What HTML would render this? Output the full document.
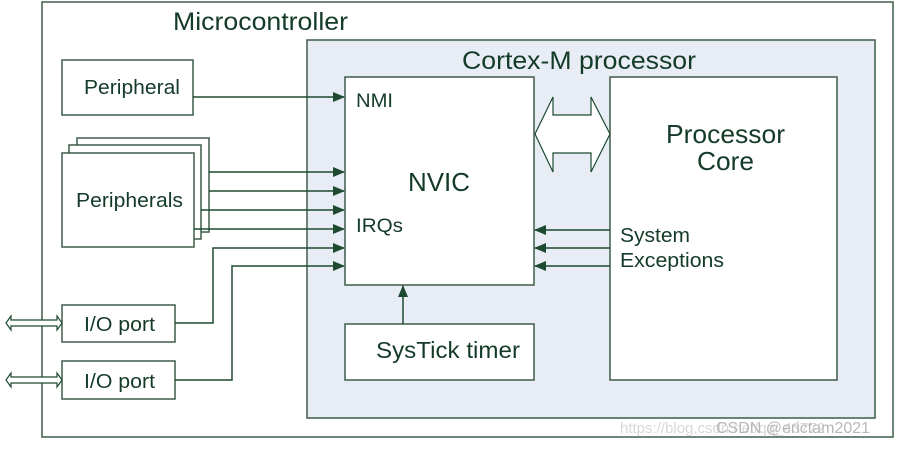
<!DOCTYPE html>
<html><head><meta charset="utf-8"><style>
html,body{margin:0;padding:0;background:#fff;}
svg text{font-family:"Liberation Sans",Arial,sans-serif;fill:#143a28;}
</style></head><body>
<svg width="899" height="444" viewBox="0 0 899 444" xmlns="http://www.w3.org/2000/svg">
<defs>
<marker id="a" markerWidth="12" markerHeight="10" refX="11" refY="5" orient="auto" markerUnits="userSpaceOnUse">
<path d="M0,0 L12,5 L0,10 Z" fill="#1d4a30"/></marker>
</defs>
<g stroke="#3d5c48" stroke-width="1.5" fill="none">
<rect x="42" y="2" width="851" height="435" fill="#fff"/>
<rect x="307" y="40" width="568" height="378" fill="#e8edf5"/>
<rect x="345" y="77" width="189" height="208" fill="#fff"/>
<rect x="610" y="77" width="227" height="303" fill="#fff"/>
<rect x="345" y="324" width="189" height="56" fill="#fff"/>
<rect x="62" y="60" width="131" height="55" fill="#fff"/>
<rect x="77" y="138" width="132" height="94" fill="#fff"/>
<rect x="69" y="145" width="132" height="94" fill="#fff"/>
<rect x="62" y="153" width="132" height="94" fill="#fff"/>
<rect x="62" y="305" width="113" height="37" fill="#fff"/>
<rect x="62" y="361" width="113" height="38" fill="#fff"/>
</g>
<g stroke="#1d4a30" stroke-width="1.5" fill="none" marker-end="url(#a)">
<line x1="193" y1="97" x2="344" y2="97"/>
<line x1="209" y1="172" x2="344" y2="172"/>
<line x1="209" y1="191" x2="344" y2="191"/>
<line x1="201" y1="210" x2="344" y2="210"/>
<line x1="194" y1="229" x2="344" y2="229"/>
<polyline points="175,323 213,323 213,248 344,248"/>
<polyline points="175,380 232,380 232,266 344,266"/>
<line x1="610" y1="230" x2="535" y2="230"/>
<line x1="610" y1="248" x2="535" y2="248"/>
<line x1="610" y1="266" x2="535" y2="266"/>
<line x1="403" y1="324" x2="403" y2="286"/>
</g>
<path d="M535,134 L553,97 L553,115 L591,115 L591,97 L610,134 L591,172 L591,153 L553,153 L553,172 Z" fill="#fff" stroke="#1d4a30" stroke-width="1.2"/>
<g fill="#fff" stroke="#1d4a30" stroke-width="1.2">
<path d="M6,323 L11,316 L11,320 L57,320 L57,316 L62,323 L57,330 L57,326 L11,326 L11,330 Z"/>
<path d="M6,380 L11,373 L11,377 L57,377 L57,373 L62,380 L57,387 L57,383 L11,383 L11,387 Z"/>
</g>
<text x="173" y="30" font-size="25" textLength="175" lengthAdjust="spacingAndGlyphs">Microcontroller</text>
<text x="462" y="69" font-size="25" textLength="234" lengthAdjust="spacingAndGlyphs">Cortex-M processor</text>
<text x="356" y="107" font-size="19" textLength="37" lengthAdjust="spacingAndGlyphs">NMI</text>
<text x="408" y="191" font-size="26" textLength="62" lengthAdjust="spacingAndGlyphs">NVIC</text>
<text x="356" y="232" font-size="19" textLength="47" lengthAdjust="spacingAndGlyphs">IRQs</text>
<text x="666" y="143" font-size="26" textLength="119" lengthAdjust="spacingAndGlyphs">Processor</text>
<text x="697" y="170" font-size="26" textLength="57" lengthAdjust="spacingAndGlyphs">Core</text>
<text x="620" y="242" font-size="20" textLength="70" lengthAdjust="spacingAndGlyphs">System</text>
<text x="620" y="267" font-size="20" textLength="104" lengthAdjust="spacingAndGlyphs">Exceptions</text>
<text x="376" y="358" font-size="23" textLength="144" lengthAdjust="spacingAndGlyphs">SysTick timer</text>
<text x="84" y="94" font-size="20" textLength="96" lengthAdjust="spacingAndGlyphs">Peripheral</text>
<text x="76" y="207" font-size="20" textLength="107" lengthAdjust="spacingAndGlyphs">Peripherals</text>
<text x="84" y="331" font-size="20" textLength="71" lengthAdjust="spacingAndGlyphs">I/O port</text>
<text x="84" y="388" font-size="20" textLength="71" lengthAdjust="spacingAndGlyphs">I/O port</text>
<text x="620" y="433" font-size="15" style="fill:#d8d8d8">https://blog.csdn.net/qq_43772</text>
<text x="716" y="433" font-size="16" style="fill:#b8b8b8">CSDN @erictam2021</text>
</svg>
</body></html>
